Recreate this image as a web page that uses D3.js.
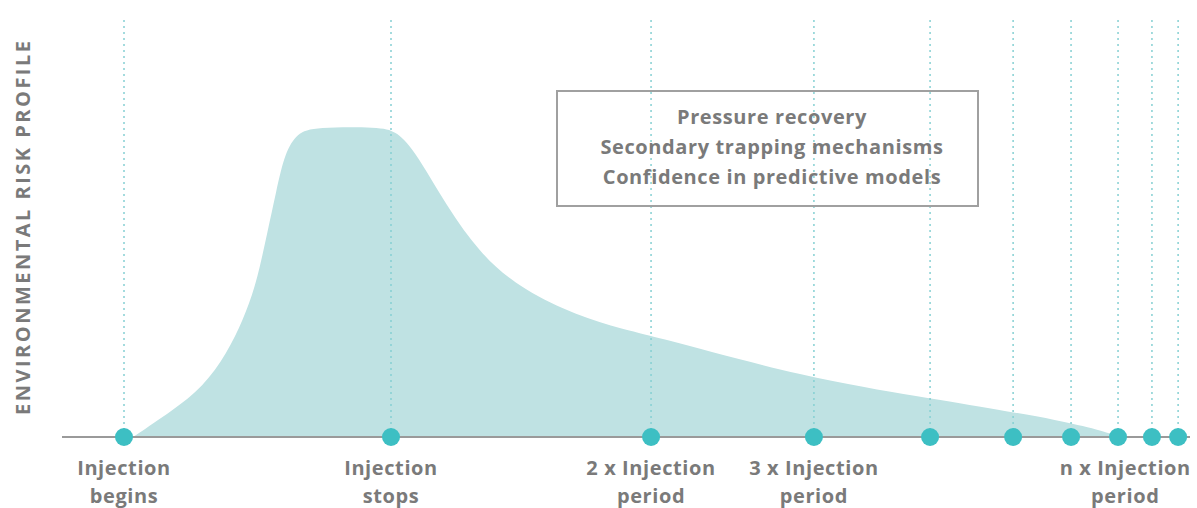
<!DOCTYPE html>
<html>
<head>
<meta charset="utf-8">
<script src="https://cdn.jsdelivr.net/npm/d3@7"></script>
<style>
  body { margin: 0; background: #fff; }
  svg { display: block; }
  text { font-family: 'Open Sans', sans-serif; fill: #7a7a7a; font-weight: 700; }
</style>
</head>
<body>
<div id="chart"></div>
<script>
'use strict';

// time in units of the injection period
const markerTimes = [0, 1, 1.974, 2.584, 3.019, 3.33, 3.547, 3.723, 3.85, 3.948];
const labelTimes = [0, 1, 1.974, 2.584, 3.75];
const labelLines = [
  ['Injection', 'begins'],
  ['Injection', 'stops'],
  ['2 x Injection', 'period'],
  ['3 x Injection', 'period'],
  ['n x Injection', 'period']
];
const riskTimes = [0.034, 0.184, 0.296, 0.386, 0.446, 0.491, 0.521, 0.573, 0.603, 0.648, 0.715, 0.959, 1.015, 1.082, 1.21, 1.333, 1.457, 1.644, 1.831, 1.97, 2.558, 2.989, 3.281, 3.494, 3.655, 3.73];
const riskValues = [0, 8.7, 16.1, 27.1, 37.7, 48.4, 59.4, 80.6, 91.6, 98.1, 100, 100, 98.7, 93.5, 74.2, 59.4, 49.7, 41.0, 35.5, 32.9, 19.0, 12.9, 8.7, 5.5, 2.3, 0];
const boxLines = ['Pressure recovery', 'Secondary trapping mechanisms', 'Confidence in predictive models'];
const yTitle = 'ENVIRONMENTAL RISK PROFILE';

const width = 1197, height = 508;
const baseY = 437;

const svg = d3.select('#chart').append('svg')
  .attr('width', width)
  .attr('height', height);

const x = d3.scaleLinear().domain([0, 1]).range([124, 391]);
const y = d3.scaleLinear().domain([0, 100]).range([baseY, 127]);

const risk = riskTimes.map((t, i) => ({ t: t, v: riskValues[i] }));

// area
const area = d3.area()
  .x((d) => x(d.t))
  .y0(y(0))
  .y1((d) => y(d.v))
  .curve(d3.curveBasis);

svg.append('path')
  .datum(risk)
  .attr('d', area)
  .attr('fill', '#bfe2e3');

// dashed guide lines
svg.append('g')
  .selectAll('line')
  .data(markerTimes)
  .enter().append('line')
    .attr('x1', (d) => x(d))
    .attr('x2', (d) => x(d))
    .attr('y1', 20)
    .attr('y2', baseY)
    .attr('stroke', '#86d0d3')
    .attr('stroke-width', 1.5)
    .attr('stroke-dasharray', '2,4');

// baseline
svg.append('line')
  .attr('x1', 62)
  .attr('x2', 1190)
  .attr('y1', baseY)
  .attr('y2', baseY)
  .attr('stroke', '#9a9a9a')
  .attr('stroke-width', 2);

// markers
svg.append('g')
  .selectAll('circle')
  .data(markerTimes)
  .enter().append('circle')
    .attr('cx', (d) => x(d))
    .attr('cy', baseY)
    .attr('r', 9)
    .attr('fill', '#3dbfc3');

// x labels
const labels = svg.append('g')
  .selectAll('text')
  .data(labelTimes)
  .enter().append('text')
    .attr('text-anchor', 'middle')
    .attr('font-size', 20)
    .attr('letter-spacing', 0.6);

labels.selectAll('tspan')
  .data((d, i) => labelLines[i].map((s) => ({ s: s, t: d })))
  .enter().append('tspan')
    .attr('x', (d) => x(d.t))
    .attr('y', (d, i) => 475 + i * 28)
    .text((d) => d.s);

// y title
svg.append('text')
  .attr('transform', `translate(30, 228) rotate(-90)`)
  .attr('text-anchor', 'middle')
  .attr('font-size', 20)
  .attr('textLength', 374)
  .attr('lengthAdjust', 'spacing')
  .text(yTitle);

// annotation box
svg.append('rect')
  .attr('x', 557)
  .attr('y', 91)
  .attr('width', 421)
  .attr('height', 115)
  .attr('fill', 'none')
  .attr('stroke', '#a0a0a0')
  .attr('stroke-width', 2);

svg.append('g')
  .selectAll('text')
  .data(boxLines)
  .enter().append('text')
    .attr('x', 772)
    .attr('y', (d, i) => 124 + i * 30)
    .attr('text-anchor', 'middle')
    .attr('font-size', 20)
    .attr('font-weight', 600)
    .attr('letter-spacing', 0.6)
    .text((d) => d);
</script>
</body>
</html>
